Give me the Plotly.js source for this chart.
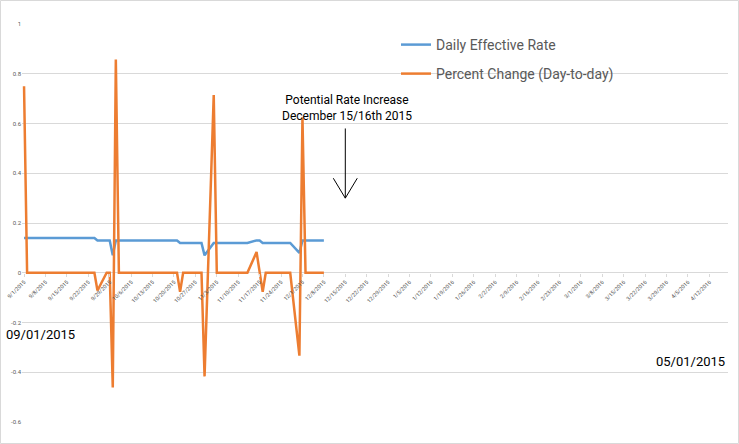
<!DOCTYPE html>
<html>
<head>
<meta charset="utf-8">
<script src="https://cdn.plot.ly/plotly-3.0.1.min.js"></script>
<style>html,body{margin:0;padding:0;background:#fff;}#chart{width:739px;height:444px;}</style>
</head>
<body>
<div id="chart"></div>
<script>
var dates = [
'2015-09-01','2015-09-02','2015-09-03','2015-09-04','2015-09-08','2015-09-09','2015-09-10','2015-09-11','2015-09-14','2015-09-15','2015-09-16','2015-09-17','2015-09-18','2015-09-21','2015-09-22','2015-09-23','2015-09-24','2015-09-25','2015-09-28','2015-09-29','2015-09-30',
'2015-10-01','2015-10-02','2015-10-05','2015-10-06','2015-10-07','2015-10-08','2015-10-09','2015-10-13','2015-10-14','2015-10-15','2015-10-16','2015-10-19','2015-10-20','2015-10-21','2015-10-22','2015-10-23','2015-10-26','2015-10-27','2015-10-28','2015-10-29','2015-10-30',
'2015-11-02','2015-11-03','2015-11-04','2015-11-05','2015-11-06','2015-11-09','2015-11-10','2015-11-12','2015-11-13','2015-11-16','2015-11-17','2015-11-18','2015-11-19','2015-11-20','2015-11-23','2015-11-24','2015-11-25','2015-11-27','2015-11-30',
'2015-12-01','2015-12-02','2015-12-03','2015-12-04','2015-12-07','2015-12-08'];

var effectiveRate = [
0.14,0.14,0.14,0.14,0.14,0.14,0.14,0.14,0.14,0.14,0.14,0.14,0.14,0.14,0.14,0.14,0.14,0.13,0.13,0.13,0.07,
0.13,0.13,0.13,0.13,0.13,0.13,0.13,0.13,0.13,0.13,0.13,0.13,0.13,0.13,0.12,0.12,0.12,0.12,0.12,0.12,0.07,
0.12,0.12,0.12,0.12,0.12,0.12,0.12,0.12,0.12,0.13,0.13,0.12,0.12,0.12,0.12,0.12,0.12,0.12,0.08,
0.13,0.13,0.13,0.13,0.13,0.13];

var percentChange = [
0.75,0,0,0,0,0,0,0,0,0,0,0,0,0,0,0,0,-0.0714,0,0,-0.4615,
0.8571,0,0,0,0,0,0,0,0,0,0,0,0,0,-0.0769,0,0,0,0,0,-0.4167,
0.7143,0,0,0,0,0,0,0,0,0.0833,0,-0.0769,0,0,0,0,0,0,-0.3333,
0.625,0,0,0,0,0,0];

var yTickVals = [1,0.8,0.6,0.4,0.2,0,-0.2,-0.4,-0.6];
var yTickText = ['1','0.8','0.6','0.4','0.2','0','-0.2','-0.4','-0.6'];

var seriesNames = ['Daily Effective Rate','Percent Change (Day-to-day)'];
var noteText = 'Potential Rate Increase<br>December 15/16th 2015';
var startLabel = '09/01/2015';
var endLabel = '05/01/2015';

// layout geometry (pixels)
var W = 739, H = 444, ML = 22, MR = 11, MT = 24, MB = 22;
var PW = W - ML - MR, PH = H - MT - MB;
function px(x){ return (x - ML) / PW; }
function py(y){ return 1 - (y - MT) / PH; }

var font = 'Roboto, "Liberation Sans", Arial, sans-serif';

var traces = [
  {x: dates, y: effectiveRate, type: 'scatter', mode: 'lines', name: seriesNames[0],
   line: {color: '#5B9BD5', width: 2.5}, legend: 'legend'},
  {x: dates, y: percentChange, type: 'scatter', mode: 'lines', name: seriesNames[1],
   line: {color: '#ED7D31', width: 2.5}, legend: 'legend2'}
];

var layout = {
  width: W, height: H,
  margin: {l: ML, r: MR, t: MT, b: MB, pad: 0},
  paper_bgcolor: '#ffffff', plot_bgcolor: '#ffffff',
  font: {family: font, color: '#595959'},
  showlegend: true,
  legend: {x: px(396), xanchor: 'left', y: py(45), yanchor: 'middle', bgcolor: 'rgba(0,0,0,0)',
           font: {size: 14, color: '#595959', family: font}},
  legend2: {x: px(396), xanchor: 'left', y: py(74), yanchor: 'middle', bgcolor: 'rgba(0,0,0,0)',
           font: {size: 14, color: '#595959', family: font}},
  xaxis: {
    type: 'date',
    range: ['2015-08-31 08:00', '2016-04-18 02:00'],
    tick0: '2015-09-01', dtick: 7 * 86400000,
    tickformat: '%-m/%-d/%Y',
    tickangle: -45,
    tickfont: {size: 5.5, color: '#595959', family: font},
    showgrid: false, zeroline: false, showline: false,
    ticks: 'outside', ticklen: 3, tickcolor: '#d9d9d9', tickwidth: 1,
    anchor: 'free', position: 0.6 / 1.6
  },
  yaxis: {
    range: [-0.6, 1],
    tickvals: yTickVals, ticktext: yTickText,
    tickfont: {size: 6, color: '#595959', family: font},
    showgrid: true, gridcolor: '#d9d9d9', gridwidth: 1,
    zeroline: true, zerolinecolor: '#d9d9d9', zerolinewidth: 1,
    showline: false, ticks: ''
  },
  shapes: [
    {type: 'rect', xref: 'paper', yref: 'paper', x0: px(0.5), x1: px(738.5), y0: py(0.5), y1: py(443.5),
     line: {color: '#d9d9d9', width: 1}, fillcolor: 'rgba(0,0,0,0)', layer: 'below'},
    {type: 'line', xref: 'x', yref: 'y', x0: '2015-12-15', x1: '2015-12-15', y0: 0.58, y1: 0.30,
     line: {color: '#000000', width: 1}},
    {type: 'line', xref: 'x', yref: 'y', x0: '2015-12-11 02:00', x1: '2015-12-15', y0: 0.38, y1: 0.30,
     line: {color: '#000000', width: 1}},
    {type: 'line', xref: 'x', yref: 'y', x0: '2015-12-18 22:00', x1: '2015-12-15', y0: 0.38, y1: 0.30,
     line: {color: '#000000', width: 1}}
  ],
  annotations: [
    {text: noteText, xref: 'paper', yref: 'paper', x: px(347), y: py(108), xanchor: 'center', yanchor: 'middle',
     showarrow: false, align: 'center', font: {size: 12, color: '#000000', family: font}},
    {text: startLabel, xref: 'paper', yref: 'paper', x: px(4), y: py(334), xanchor: 'left', yanchor: 'middle',
     showarrow: false, font: {size: 13, color: '#000000', family: font}},
    {text: endLabel, xref: 'paper', yref: 'paper', x: px(727), y: py(361), xanchor: 'right', yanchor: 'middle',
     showarrow: false, font: {size: 13, color: '#000000', family: font}}
  ]
};

Plotly.newPlot('chart', traces, layout, {staticPlot: true, displayModeBar: false});
</script>
</body>
</html>
